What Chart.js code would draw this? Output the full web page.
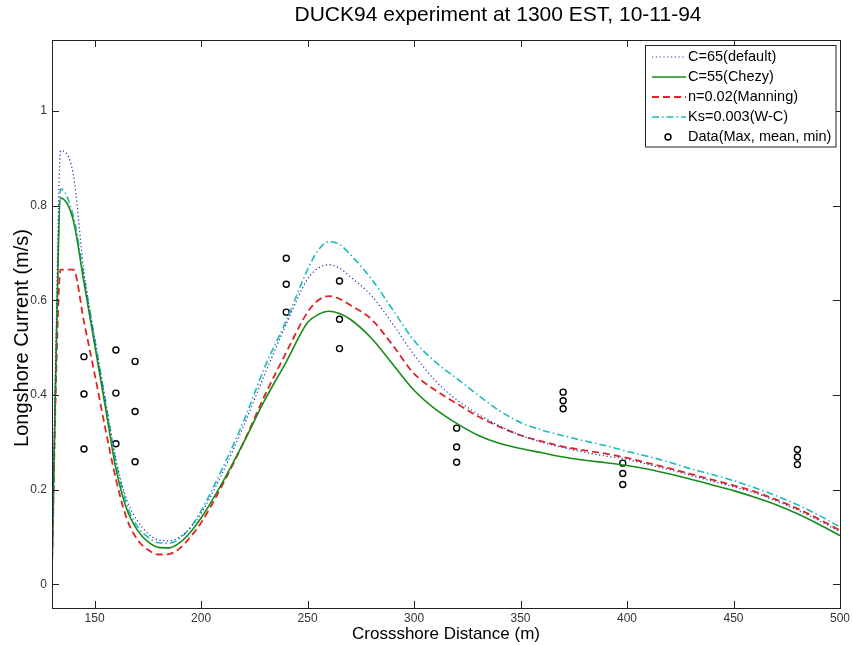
<!DOCTYPE html>
<html><head><meta charset="utf-8">
<script src="https://cdn.jsdelivr.net/npm/chart.js@4"></script>
<style>html,body{margin:0;padding:0;background:#fff;}</style>
</head><body>
<canvas id="c" width="853" height="645"></canvas>
<script>
// ---- data ----
const chartTitle = 'DUCK94 experiment at 1300 EST, 10-11-94';
const xTitle = 'Crossshore Distance (m)';
const yTitle = 'Longshore Current (m/s)';
const xTickVals = [150, 200, 250, 300, 350, 400, 450, 500];
const yTickVals = [0, 0.2, 0.4, 0.6, 0.8, 1];
const seriesNames = ['C=65(default)', 'C=55(Chezy)', 'n=0.02(Manning)', 'Ks=0.003(W-C)', 'Data(Max, mean, min)'];

const xModel = [130, 132, 134, 140, 145, 150, 155, 160, 165, 170, 175, 180, 185, 190, 195, 200, 210, 220, 230, 240, 250, 255, 260, 265, 270, 280, 290, 300, 310, 320, 330, 340, 350, 360, 370, 380, 390, 400, 410, 420, 430, 440, 450, 460, 470, 480, 490, 500];
const vC65 = [0.03, 0.55, 0.916, 0.866, 0.66, 0.52, 0.39, 0.265, 0.18, 0.135, 0.108, 0.094, 0.092, 0.10, 0.12, 0.15, 0.235, 0.335, 0.445, 0.55, 0.645, 0.668, 0.675, 0.668, 0.65, 0.61, 0.55, 0.485, 0.43, 0.39, 0.36, 0.335, 0.315, 0.30, 0.289, 0.279, 0.271, 0.264, 0.253, 0.242, 0.230, 0.218, 0.206, 0.193, 0.176, 0.157, 0.135, 0.111];
const vC55 = [0.03, 0.50, 0.816, 0.769, 0.638, 0.507, 0.376, 0.245, 0.16, 0.115, 0.09, 0.078, 0.077, 0.088, 0.11, 0.14, 0.215, 0.30, 0.39, 0.47, 0.553, 0.570, 0.577, 0.572, 0.56, 0.52, 0.465, 0.41, 0.37, 0.34, 0.315, 0.298, 0.287, 0.278, 0.269, 0.262, 0.257, 0.251, 0.243, 0.233, 0.222, 0.21, 0.198, 0.184, 0.168, 0.149, 0.127, 0.103];
const vN002 = [0.03, 0.45, 0.665, 0.665, 0.555, 0.445, 0.33, 0.223, 0.14, 0.095, 0.073, 0.063, 0.064, 0.076, 0.10, 0.13, 0.21, 0.30, 0.40, 0.49, 0.575, 0.60, 0.609, 0.603, 0.59, 0.56, 0.505, 0.445, 0.41, 0.382, 0.355, 0.333, 0.315, 0.302, 0.291, 0.283, 0.276, 0.267, 0.256, 0.245, 0.233, 0.221, 0.209, 0.196, 0.179, 0.16, 0.138, 0.114];
const vKs = [0.03, 0.50, 0.835, 0.778, 0.65, 0.52, 0.39, 0.26, 0.17, 0.123, 0.10, 0.088, 0.087, 0.097, 0.12, 0.155, 0.245, 0.345, 0.46, 0.557, 0.665, 0.706, 0.724, 0.718, 0.697, 0.645, 0.58, 0.515, 0.47, 0.435, 0.40, 0.367, 0.342, 0.326, 0.314, 0.303, 0.293, 0.281, 0.27, 0.258, 0.244, 0.232, 0.219, 0.204, 0.187, 0.168, 0.146, 0.121];

const stationX = [145, 160, 169, 240, 265, 320, 370, 398, 480];
const vMax  = [0.481, 0.495, 0.471, 0.689, 0.641, 0.330, 0.406, 0.256, 0.285];
const vMean = [0.402, 0.404, 0.365, 0.634, 0.560, 0.290, 0.388, 0.234, 0.269];
const vMin  = [0.286, 0.297, 0.259, 0.575, 0.498, 0.258, 0.371, 0.211, 0.253];

// ---- build ----
const FONT = "'Liberation Sans', Arial, sans-serif";
const toXY = (xs, ys) => xs.map((x, i) => ({x: x, y: ys[i]}));
const obsPts = [];
stationX.forEach((x, i) => { obsPts.push({x, y: vMax[i]}, {x, y: vMean[i]}, {x, y: vMin[i]}); });

const styles = [
  {color: '#2a2ab0', width: 1.2, dash: [1.2, 2.6]},
  {color: '#178c17', width: 1.6, dash: []},
  {color: '#e02424', width: 1.8, dash: [7, 4]},
  {color: '#1cbcbc', width: 1.6, dash: [7, 3, 1.5, 3]}
];
const series = [vC65, vC55, vN002, vKs];
const datasets = series.map((s, i) => ({
  label: seriesNames[i], data: toXY(xModel, s),
  borderColor: styles[i].color, borderWidth: styles[i].width, borderDash: styles[i].dash,
  pointRadius: 0, fill: false, cubicInterpolationMode: 'monotone'
}));
datasets.push({
  label: seriesNames[4], data: obsPts, showLine: false,
  pointRadius: 3, pointBorderColor: '#000', pointBackgroundColor: 'rgba(0,0,0,0)', pointBorderWidth: 1.4,
  borderColor: '#000', backgroundColor: 'rgba(0,0,0,0)'
});

const framePlugin = {
  id: 'frame',
  afterDraw(chart) {
    const ctx = chart.ctx, a = chart.chartArea;
    const xs = chart.scales.x, ys = chart.scales.y;
    ctx.save();
    ctx.strokeStyle = '#222'; ctx.lineWidth = 1; ctx.setLineDash([]);
    ctx.strokeRect(Math.round(a.left) + 0.5, Math.round(a.top) + 0.5, Math.round(a.right - a.left), Math.round(a.bottom - a.top));
    const L = 7;
    ctx.beginPath();
    xTickVals.forEach(v => {
      const px = Math.round(xs.getPixelForValue(v)) + 0.5;
      ctx.moveTo(px, a.bottom); ctx.lineTo(px, a.bottom - L);
      ctx.moveTo(px, a.top); ctx.lineTo(px, a.top + L);
    });
    yTickVals.forEach(v => {
      const py = Math.round(ys.getPixelForValue(v)) + 0.5;
      ctx.moveTo(a.left, py); ctx.lineTo(a.left + L, py);
      ctx.moveTo(a.right, py); ctx.lineTo(a.right - L, py);
    });
    ctx.stroke();
    // titles
    ctx.fillStyle = '#000';
    ctx.textAlign = 'center'; ctx.textBaseline = 'middle';
    ctx.font = '21px ' + FONT;
    ctx.fillText(chartTitle, 498, 15);
    ctx.font = '17px ' + FONT;
    ctx.fillText(xTitle, (a.left + a.right) / 2, 634);
    ctx.save();
    ctx.translate(22, 338);
    ctx.rotate(-Math.PI / 2);
    ctx.font = '20px ' + FONT;
    ctx.fillText(yTitle, 0, 0);
    ctx.restore();
    // legend box
    const bx = 645.5, by = 45.5, bw = 190.5, bh = 101.5;
    ctx.fillStyle = '#fff';
    ctx.fillRect(bx, by, bw, bh);
    ctx.strokeStyle = '#222';
    ctx.strokeRect(bx, by, bw, bh);
    ctx.font = '14.5px ' + FONT;
    ctx.textAlign = 'left'; ctx.textBaseline = 'middle';
    for (let i = 0; i < 5; i++) {
      const yy = 57 + i * 20;
      const ds = chart.data.datasets[i];
      if (i < 4) {
        ctx.strokeStyle = ds.borderColor; ctx.lineWidth = ds.borderWidth;
        ctx.setLineDash(ds.borderDash);
        ctx.beginPath(); ctx.moveTo(652, yy); ctx.lineTo(686, yy); ctx.stroke();
        ctx.setLineDash([]);
      } else {
        ctx.strokeStyle = '#000'; ctx.lineWidth = 1.4;
        ctx.beginPath(); ctx.arc(668, yy, 3, 0, Math.PI * 2); ctx.stroke();
      }
      ctx.fillStyle = '#000';
      ctx.fillText(ds.label, 688, yy);
    }
    ctx.restore();
  }
};

new Chart(document.getElementById('c'), {
  type: 'line',
  data: {datasets},
  plugins: [framePlugin],
  options: {
    responsive: false, animation: false, devicePixelRatio: 1,
    layout: {padding: {top: 40, right: 12, left: 0, bottom: 0}},
    plugins: {legend: {display: false}, title: {display: false}, tooltip: {enabled: false}},
    scales: {
      x: {
        type: 'linear', min: 130, max: 500,
        afterBuildTicks: s => { s.ticks = xTickVals.map(v => ({value: v})); },
        afterFit: s => { s.height = 37; },
        grid: {display: false, drawTicks: false}, border: {display: false},
        ticks: {font: {family: FONT, size: 12}, color: '#333', padding: 3, maxRotation: 0, autoSkip: false},
        title: {display: false}
      },
      y: {
        type: 'linear', min: -0.05, max: 1.15,
        afterBuildTicks: s => { s.ticks = yTickVals.map(v => ({value: v})); },
        afterFit: s => { s.width = 52; },
        grid: {display: false, drawTicks: false}, border: {display: false},
        ticks: {font: {family: FONT, size: 12}, color: '#333', padding: 5, callback: v => String(v)},
        title: {display: false}
      }
    }
  }
});
</script>
</body></html>
